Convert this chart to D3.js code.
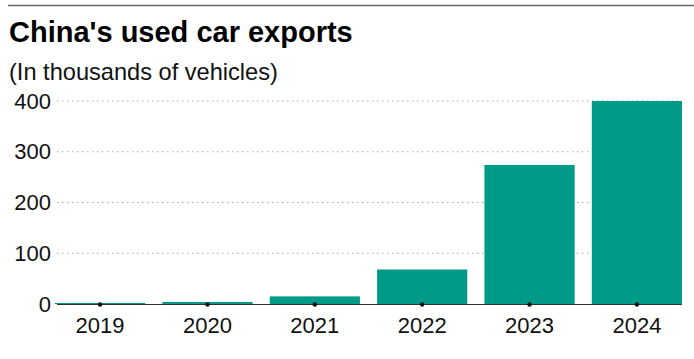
<!DOCTYPE html>
<html>
<head>
<meta charset="utf-8">
<script src="https://cdn.jsdelivr.net/npm/d3@7"></script>
<style>
  body { margin: 0; background: #fff; }
  svg { font-family: "Liberation Sans", Arial, sans-serif; display: block; }
</style>
</head>
<body>
<svg id="chart" width="694" height="359"></svg>
<script>
const years = ['2019', '2020', '2021', '2022', '2023', '2024']
const exports = [2, 4, 15, 68, 274, 400]
const yTicks = [0, 100, 200, 300, 400]

const svg = d3.select('#chart')

// top rule
svg.append('line')
    .attr('x1', 8).attr('x2', 694)
    .attr('y1', 5.5).attr('y2', 5.5)
    .attr('stroke', '#666').attr('stroke-width', 1.3)

svg.append('text')
    .attr('x', 9).attr('y', 42)
    .attr('font-size', 29).attr('font-weight', 'bold')
    .attr('fill', '#000')
    .text("China's used car exports")

svg.append('text')
    .attr('x', 9).attr('y', 80)
    .attr('font-size', 23.6).attr('fill', '#111')
    .text('(In thousands of vehicles)')

const x = d3.scaleBand()
    .domain(years)
    .range([55, 682])
    .paddingInner(0.16)
    .paddingOuter(0)

const y = d3.scaleLinear()
    .domain([0, 400])
    .range([304, 101])

// gridlines
svg.append('g')
    .selectAll('line')
    .data(yTicks.filter(d => d > 0))
    .enter()
    .append('line')
    .attr('x1', 57).attr('x2', 682)
    .attr('y1', d => y(d)).attr('y2', d => y(d))
    .attr('stroke', '#aaa')
    .attr('stroke-width', 1)
    .attr('stroke-dasharray', '1.5,3.5')

// y labels
svg.append('g')
    .selectAll('text')
    .data(yTicks)
    .enter()
    .append('text')
    .attr('x', 51)
    .attr('y', d => y(d))
    .attr('dy', '0.35em')
    .attr('text-anchor', 'end')
    .attr('font-size', 22)
    .attr('fill', '#111')
    .text(d => d)

// bars
svg.append('g')
    .selectAll('rect')
    .data(exports)
    .enter()
    .append('rect')
    .attr('x', (d, i) => x(years[i]))
    .attr('y', d => y(d))
    .attr('width', x.bandwidth())
    .attr('height', d => y(0) - y(d))
    .attr('fill', '#009a88')

// baseline
svg.append('line')
    .attr('x1', 57).attr('x2', 682)
    .attr('y1', y(0) + 0.5).attr('y2', y(0) + 0.5)
    .attr('stroke', '#333').attr('stroke-width', 1)

// tick dots
svg.append('g')
    .selectAll('circle')
    .data(years)
    .enter()
    .append('circle')
    .attr('cx', d => x(d) + x.bandwidth() / 2)
    .attr('cy', y(0) + 0.5)
    .attr('r', 2.2)
    .attr('fill', '#111')

// x labels
svg.append('g')
    .selectAll('text')
    .data(years)
    .enter()
    .append('text')
    .attr('x', d => x(d) + x.bandwidth() / 2)
    .attr('y', 333)
    .attr('text-anchor', 'middle')
    .attr('font-size', 22)
    .attr('fill', '#111')
    .text(d => d)
</script>
</body>
</html>
